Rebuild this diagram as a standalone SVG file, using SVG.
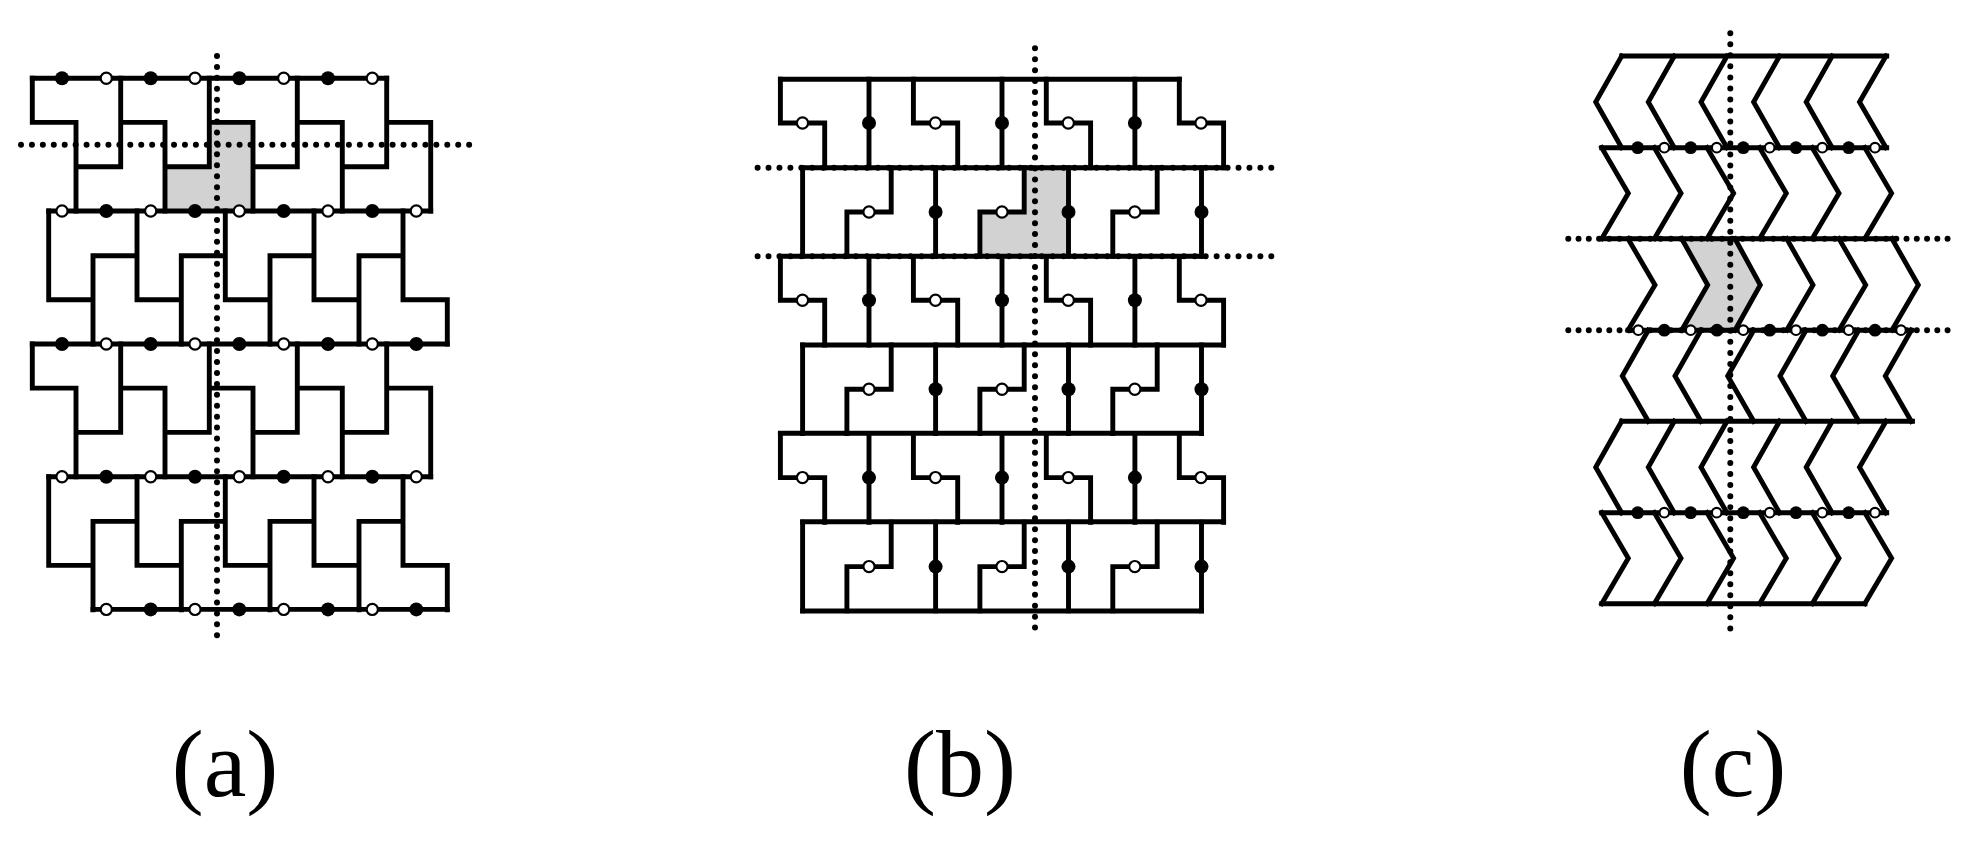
<svg xmlns="http://www.w3.org/2000/svg" width="1983" height="844" viewBox="0 0 1983 844">
<style>
.l{fill:none;stroke:#000;stroke-width:4.9;stroke-linejoin:miter;stroke-linecap:square}
.g{fill:#d2d2d2;stroke:none}
.d{fill:none;stroke:#000;stroke-width:6;stroke-linecap:round}
.p{stroke-dasharray:0 10.93}
.pc{stroke-dasharray:0 11.02}
.h2{stroke-dasharray:0 10.25}
.f{fill:#000}
.o{fill:#fff;stroke:#000;stroke-width:2.2}
text{font-family:"Liberation Serif","Times New Roman",serif;font-size:96px;fill:#000;text-anchor:middle}
</style>
<defs>
<circle id="fa" class="f" r="7"/>
<circle id="oa" class="o" r="5.6"/>
<circle id="fc" class="f" r="6.4"/>
<circle id="oc" class="o" r="4.8"/>
<path id="aA" d="M32.3 78.3V122.4H76V211M76 166.7H120.7V78.3M120.7 122.4H165V211M165 166.7H209.3V78.3M209.3 122.4H253V211M253 166.7H297.3V78.3M297.3 122.4H342.3V211M342.3 166.7H386.7V78.3M386.7 122.4H430.7V211"/>
<path id="aB" d="M48.7 211V299.7H93M93 344V255.7H137M137 211V299.7H181.3M181.3 344V255.7H225.3M225.3 211V299.7H270M270 344V255.7H314M314 211V299.7H359M359 344V255.7H403M403 211V299.7H447.3V344"/>
<path id="bA" d="M780.4 79.3V123H824.7V167.7M869 79.3V167.7M913.4 79.3V123H957.7V167.7M1002 79.3V167.7M1046.3 79.3V123H1090.6V167.7M1134.9 79.3V167.7M1179.3 79.3V123H1223.6V167.7"/>
<path id="bB" d="M802.6 167.7V256.3M891.2 167.7V212H846.9V256.3M935.6 167.7V256.3M1024.2 167.7V212H979.9V256.3M1068.5 167.7V256.3M1157.2 167.7V212H1112.8V256.3M1201.5 167.7V256.3"/>
<g id="bAc">
<use href="#oa" x="802.5" y="123"/><use href="#fa" x="869" y="123"/><use href="#oa" x="935.5" y="123"/><use href="#fa" x="1002" y="123"/><use href="#oa" x="1068.3" y="123"/><use href="#fa" x="1134.9" y="123"/><use href="#oa" x="1201" y="123"/>
</g>
<g id="bBc">
<use href="#oa" x="869" y="212"/><use href="#fa" x="935.6" y="212"/><use href="#oa" x="1002" y="212"/><use href="#fa" x="1068.5" y="212"/><use href="#oa" x="1134.8" y="212"/><use href="#fa" x="1201.5" y="212"/>
</g>
<path id="c1" d="M1621.7 56L1595.7 102L1621.7 147.7M1674.3 56L1648.3 102L1674.3 147.7M1727 56L1701 102L1727 147.7M1779.6 56L1753.6 102L1779.6 147.7M1832.2 56L1806.2 102L1832.2 147.7M1886 56L1859.5 102L1886 147.7"/>
<path id="c2" d="M1601.7 147.7L1628.3 193.3L1601.7 238.7M1654.3 147.7L1681 193.3L1654.3 238.7M1707 147.7L1733.6 193.3L1707 238.7M1759.6 147.7L1786.3 193.3L1759.6 238.7M1812.2 147.7L1839 193.3L1812.2 238.7M1864.8 147.7L1891.6 193.3L1864.8 238.7"/>
<g id="cc">
<use href="#fc" x="1637.7" y="147.7"/><use href="#oc" x="1664.3" y="147.7"/><use href="#fc" x="1690.7" y="147.7"/><use href="#oc" x="1716.7" y="147.7"/><use href="#fc" x="1743.3" y="147.7"/><use href="#oc" x="1769.7" y="147.7"/><use href="#fc" x="1796" y="147.7"/><use href="#oc" x="1822.3" y="147.7"/><use href="#fc" x="1848.7" y="147.7"/><use href="#oc" x="1875" y="147.7"/>
</g>
</defs>
<rect width="1983" height="844" fill="#fff"/>

<g id="panel-a">
<path class="g" d="M165 166.7H209.3V122.4H253V211H165Z"/>
<g class="l">
<use href="#aA"/><use href="#aB"/>
<use href="#aA" y="265.7"/><use href="#aB" y="265.7"/>
<path d="M32.3 78.3H386.7M48.7 211H430.7M32.3 344H447.3M48.7 476.7H430.7M93 609.4H447.3"/>
</g>
<path class="d p" d="M217 56V637"/>
<path class="d p" d="M21 144.7H470"/>
<g id="a-markers">
<use href="#fa" x="62" y="78.3"/><use href="#oa" x="106.3" y="78.3"/><use href="#fa" x="150.7" y="78.3"/><use href="#oa" x="195" y="78.3"/><use href="#fa" x="239.3" y="78.3"/><use href="#oa" x="283.7" y="78.3"/><use href="#fa" x="328" y="78.3"/><use href="#oa" x="372.3" y="78.3"/>
<use href="#oa" x="62" y="211"/><use href="#fa" x="106.3" y="211"/><use href="#oa" x="150.7" y="211"/><use href="#fa" x="195" y="211"/><use href="#oa" x="239.3" y="211"/><use href="#fa" x="283.7" y="211"/><use href="#oa" x="328" y="211"/><use href="#fa" x="372.3" y="211"/><use href="#oa" x="416.3" y="211"/>
<use href="#fa" x="62" y="344"/><use href="#oa" x="106.3" y="344"/><use href="#fa" x="150.7" y="344"/><use href="#oa" x="195" y="344"/><use href="#fa" x="239.3" y="344"/><use href="#oa" x="283.7" y="344"/><use href="#fa" x="328" y="344"/><use href="#oa" x="372.3" y="344"/><use href="#fa" x="416.3" y="344"/>
<use href="#oa" x="62" y="476.7"/><use href="#fa" x="106.3" y="476.7"/><use href="#oa" x="150.7" y="476.7"/><use href="#fa" x="195" y="476.7"/><use href="#oa" x="239.3" y="476.7"/><use href="#fa" x="283.7" y="476.7"/><use href="#oa" x="328" y="476.7"/><use href="#fa" x="372.3" y="476.7"/><use href="#oa" x="416.3" y="476.7"/>
<use href="#oa" x="106.3" y="609.4"/><use href="#fa" x="150.7" y="609.4"/><use href="#oa" x="195" y="609.4"/><use href="#fa" x="239.3" y="609.4"/><use href="#oa" x="283.7" y="609.4"/><use href="#fa" x="328" y="609.4"/><use href="#oa" x="372.3" y="609.4"/><use href="#fa" x="416.3" y="609.4"/>
</g>
<text x="225" y="796">(a)</text>
</g>

<g id="panel-b">
<path class="g" d="M979.9 212H1024.2V167.7H1068.5V256.3H979.9Z"/>
<path class="d p" d="M757.6 167.7H1276"/>
<path class="d p" d="M757.6 256.3H1276"/>
<g class="l">
<use href="#bA"/><use href="#bB"/>
<use href="#bA" y="177.3"/><use href="#bB" y="177.3"/>
<use href="#bA" y="354.6"/><use href="#bB" y="354.6"/>
<path d="M780.4 79.3H1179.3M802.6 167.7H1223.6M780.4 256.3H1201.5M802.6 345H1223.6M780.4 433.3H1201.5M802.6 521.7H1223.6M802.6 611H1201.5"/>
</g>
<path class="d p" d="M1035 48.3V629"/>
<g id="b-markers">
<use href="#bAc"/><use href="#bBc"/>
<use href="#bAc" y="177.3"/><use href="#bBc" y="177.3"/>
<use href="#bAc" y="354.6"/><use href="#bBc" y="354.6"/>
</g>
<text x="960" y="796">(b)</text>
</g>

<g id="panel-c">
<path class="g" d="M1681.7 238.7H1735L1760.3 285L1735 330H1681.7L1707.7 285Z"/>
<path class="d pc" d="M1730.3 33.3V629.5"/>
<path class="d h2" d="M1568.3 238.7H1948"/>
<path class="d h2" d="M1568.3 330.2H1948"/>
<g class="l">
<use href="#c1"/><use href="#c2"/>
<path d="M1628 238.7L1655 285L1628 330.2M1681.7 238.7L1707.7 285L1681.7 330.2M1735 238.7L1760.3 285L1735 330.2M1786.7 238.7L1813 285L1786.7 330.2M1839 238.7L1865.7 285L1839 330.2M1892 238.7L1918.3 285L1892 330.2"/>
<path d="M1648.3 330.2L1622.3 376L1648.3 421.3M1701 330.2L1675 376L1701 421.3M1753.7 330.2L1727.7 376L1753.7 421.3M1806 330.2L1780 376L1806 421.3M1858.7 330.2L1832.7 376L1858.7 421.3M1911.3 330.2L1885.3 376L1911.3 421.3"/>
<use href="#c1" y="365.2"/><use href="#c2" y="365"/>
<path d="M1621.7 56H1886.7M1601.7 147.7H1886.7M1601.7 238.7H1892.7M1628 330.2H1911.5M1621.7 421.3H1912.5M1601.7 512.7H1886.7M1601.7 603.7H1865"/>
</g>
<g id="c-markers">
<use href="#cc"/>
<use href="#oc" x="1638.3" y="330.2"/><use href="#fc" x="1664.3" y="330.2"/><use href="#oc" x="1690.7" y="330.2"/><use href="#fc" x="1717" y="330.2"/><use href="#oc" x="1743.3" y="330.2"/><use href="#fc" x="1769.7" y="330.2"/><use href="#oc" x="1796" y="330.2"/><use href="#fc" x="1822.3" y="330.2"/><use href="#oc" x="1848.7" y="330.2"/><use href="#fc" x="1875" y="330.2"/><use href="#oc" x="1901" y="330.2"/>
<use href="#cc" y="365"/>
</g>
<text x="1733" y="796">(c)</text>
</g>
</svg>
